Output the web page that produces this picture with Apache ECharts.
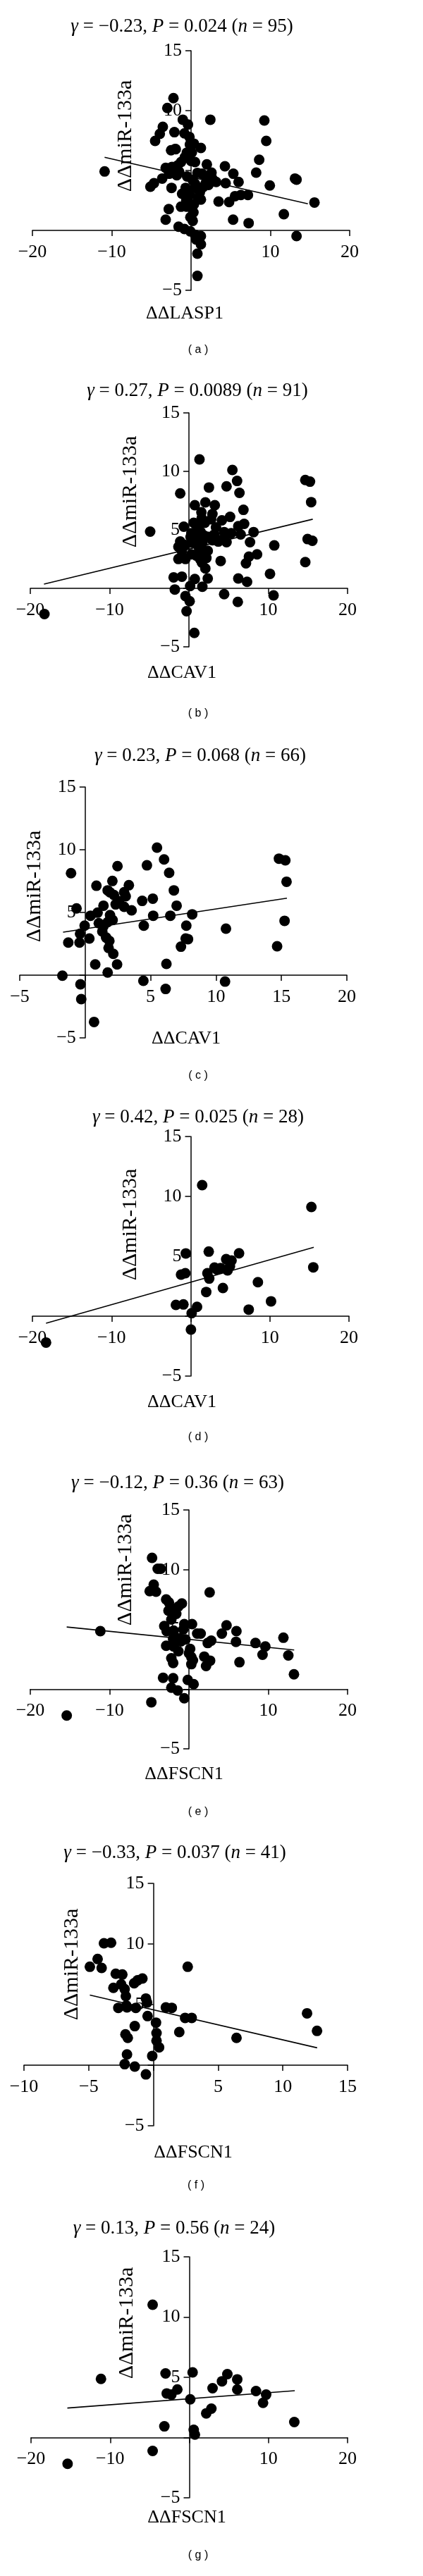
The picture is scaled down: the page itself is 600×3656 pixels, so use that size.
<!DOCTYPE html>
<html>
<head>
<meta charset="utf-8">
<title>miR-133a correlations</title>
<script src="https://cdn.jsdelivr.net/npm/echarts@6/dist/echarts.min.js"></script>
<style>
  html, body { margin: 0; padding: 0; background: #fff; }
  #chart { width: 600px; height: 3656px; }
</style>
</head>
<body>
<div id="chart"></div>
<script>
// ---- data: [ΔΔgene, ΔΔmiR-133a] ----
const pointsA = [
  [-2.22,11.04],[-2.99,10.22],[2.43,9.24],[9.24,9.18],[-1.04,9.24],[-0.39,8.84],[-3.56,8.65],[-2.10,8.20],
  [-0.83,8.10],[-3.94,8.06],[-4.53,7.47],[9.48,7.47],[-0.15,7.18],[0.36,7.24],[1.24,6.88],[-2.52,6.69],
  [-1.93,6.78],[-0.53,6.49],[8.59,5.90],[0.50,5.71],[1.99,5.51],[-1.72,5.41],[-1.27,5.71],[-3.20,5.22],
  [4.27,5.35],[2.58,4.82],[1.39,4.73],[-10.90,4.92],[8.21,4.82],[5.33,4.73],[-2.76,4.73],[-3.64,4.33],
  [13.10,4.33],[13.30,4.24],[5.99,4.04],[3.17,4.04],[4.36,3.94],[1.84,3.94],[-4.68,3.94],[-5.13,3.65],
  [-2.46,3.55],[9.93,3.75],[-0.68,3.55],[0.65,3.55],[1.10,3.16],[7.17,2.96],[6.28,2.96],[5.54,2.86],
  [-1.13,3.06],[-0.15,2.96],[3.47,2.41],[4.80,2.37],[1.24,2.57],[15.56,2.33],[-1.27,1.98],[-0.53,1.98],
  [0.36,2.18],[-2.81,1.78],[11.70,1.35],[-0.09,1.10],[0.21,0.80],[-3.20,0.90],[5.30,0.90],[7.26,0.61],
  [-1.57,0.31],[-0.83,0.12],[-0.09,-0.08],[13.30,-0.47],[0.50,-0.37],[1.24,-0.47],[0.65,-0.76],[1.24,-1.16],
  [0.80,-1.94],[0.80,-3.80],
  [-0.5,4.5],[0.2,4.2],[0.8,4.8],[-1.5,4.9],[0.0,5.8],[-0.8,6.1],[0.5,3.9],[-0.3,3.3],[1.5,3.6],[0.3,1.5],
  [-2.0,6.8],[2.7,4.3],[-0.2,7.8],[0.9,2.7],[-1.8,4.6],[0.1,6.5],[1.8,4.5],[-0.6,2.5],[2.2,3.8],[-2.4,5.3]
];
const pointsB = [
  [1.33,11.02],[5.48,10.12],[6.07,9.18],[14.67,9.26],[15.26,9.12],[4.74,8.72],[2.52,8.62],[-1.10,8.12],
  [6.37,8.16],[15.41,7.37],[0.74,7.11],[2.07,7.35],[3.26,7.11],[6.87,6.71],[1.57,6.51],[2.96,6.35],
  [4.15,5.81],[5.19,6.11],[1.33,5.55],[6.96,5.51],[-0.65,5.27],[6.22,5.31],[3.41,5.21],[-4.89,4.85],
  [0.30,4.71],[4.44,4.81],[5.33,4.71],[8.15,4.81],[6.52,4.61],[1.93,4.51],[1.04,4.21],[2.96,4.11],
  [3.85,4.11],[4.74,3.95],[7.70,3.95],[10.76,3.67],[-1.33,3.55],[-0.44,3.71],[14.96,4.21],[15.56,4.07],
  [2.37,3.21],[0.30,2.91],[-1.33,2.51],[-0.44,2.51],[8.59,2.91],[7.56,2.71],[4.00,2.34],[1.63,2.20],
  [14.67,2.24],[7.19,2.14],[2.07,1.70],[10.22,1.24],[-0.89,1.00],[-1.93,0.94],[6.22,0.84],[2.37,0.84],
  [0.74,0.80],[7.33,0.56],[0.15,0.20],[1.69,0.14],[-1.78,-0.10],[4.44,-0.50],[10.67,-0.60],[-0.44,-0.66],
  [0.09,-1.10],[6.16,-1.16],[-0.30,-1.96],[-18.22,-2.20],[0.68,-3.81],
  [0.6,5.6],[1.0,5.0],[1.5,4.8],[2.0,5.6],[0.8,4.3],[1.2,3.6],[1.7,3.9],[0.4,3.9],[2.5,4.4],[3.2,4.6],
  [1.9,3.1],[0.9,2.8],[1.4,2.5],[-0.9,3.2],[2.8,5.9],[1.6,6.0],[-1.1,4.0],[0.2,4.4],[4.5,4.3],[3.7,4.0],
  [2.2,2.6],[1.3,3.3]
];
const pointsC = [
  [5.49,10.17],[6.03,9.23],[14.81,9.29],[15.30,9.16],[4.72,8.76],[2.47,8.69],[-1.08,8.13],[6.42,8.16],
  [15.39,7.45],[2.08,7.51],[0.86,7.13],[3.34,7.17],[1.72,6.76],[6.78,6.76],[2.98,6.61],[2.20,6.39],
  [3.10,6.29],[4.36,5.92],[5.17,6.10],[1.40,5.54],[2.33,5.64],[6.99,5.54],[-0.66,5.32],[2.98,5.45],
  [3.55,5.17],[0.95,4.98],[0.41,4.74],[1.90,4.79],[5.20,4.74],[6.51,4.74],[8.18,4.85],[1.04,4.14],
  [1.72,4.23],[-0.04,3.95],[4.48,3.95],[7.73,3.95],[10.76,3.71],[15.24,4.33],[1.31,3.48],[-0.39,3.30],
  [0.32,2.92],[-1.29,2.60],[-0.43,2.60],[1.85,2.73],[7.68,2.92],[7.86,2.87],[7.32,2.27],[1.79,2.17],
  [14.67,2.30],[2.15,1.70],[0.77,0.86],[2.44,0.86],[6.21,0.90],[1.72,0.21],[-1.74,-0.04],[4.45,-0.45],
  [10.69,-0.51],[-0.36,-0.73],[6.15,-1.10],[-0.30,-1.91],[0.68,-3.73],
  [1.4,3.9],[2.1,4.4],[2.6,5.9],[1.9,6.6],[1.6,3.0]
];
const pointsD = [
  [1.45,10.94],[15.25,9.12],[-0.62,5.24],[2.28,5.39],[6.11,5.25],[4.48,4.76],[5.16,4.65],[3.00,4.06],
  [3.77,4.02],[4.96,4.18],[4.66,3.82],[-1.22,3.47],[-0.68,3.59],[2.11,3.59],[2.34,3.14],[15.49,4.08],
  [8.49,2.84],[4.07,2.35],[1.96,2.02],[10.15,1.24],[-1.87,0.94],[-0.92,0.98],[0.80,0.78],[7.33,0.55],
  [0.12,0.25],[0.03,-1.12],[-18.28,-2.20],[3.3,3.9]
];
const pointsE = [
  [-4.65,10.99],[-3.94,10.07],[-3.56,10.07],[2.61,8.10],[-4.44,8.75],[-4.95,8.20],[-4.15,8.16],[-2.87,7.51],
  [-2.52,7.25],[-0.89,7.17],[-1.33,6.92],[-1.69,6.72],[-2.58,6.56],[-2.22,5.83],[-3.11,5.28],[-0.59,5.44],
  [0.39,5.44],[4.74,5.34],[-11.17,4.85],[-2.81,4.85],[-1.93,4.89],[5.99,4.85],[4.15,4.65],[1.04,4.65],
  [1.48,4.65],[11.91,4.30],[-1.19,4.26],[-0.44,4.16],[5.93,3.96],[2.81,4.06],[2.37,3.86],[8.39,3.86],
  [-2.87,3.63],[-1.93,3.57],[9.63,3.57],[0.15,3.37],[-1.33,3.17],[9.28,2.88],[12.53,2.82],[0.30,2.68],
  [1.93,2.72],[-2.22,2.58],[2.67,2.38],[6.37,2.25],[-1.99,2.19],[0.30,2.09],[2.16,1.93],[13.24,1.24],
  [-3.26,0.95],[-1.99,0.91],[-0.15,0.77],[0.59,0.41],[-2.22,0.12],[-1.42,-0.12],[-0.59,-0.77],[-4.74,-1.10],
  [-15.41,-2.21],
  [-1.0,4.0],[0.0,3.0],[-0.7,5.0],[-2.0,4.2],[0.5,2.4],[-1.6,6.3]
];
const pointsF = [
  [-3.82,10.06],[-3.27,10.10],[-4.31,8.76],[-4.91,8.12],[-4.00,8.02],[2.65,8.12],[-2.91,7.54],[-2.40,7.48],
  [-0.85,7.15],[-1.22,7.00],[-1.49,6.76],[-2.49,6.67],[-3.09,6.38],[-2.22,6.28],[-2.13,5.70],[-0.58,5.50],
  [-0.49,5.17],[-2.09,4.92],[-2.71,4.73],[-2.04,4.77],[-1.36,4.73],[0.96,4.77],[1.42,4.73],[11.87,4.28],
  [-0.45,4.05],[2.45,3.90],[2.96,3.90],[0.20,3.51],[-1.44,3.22],[12.64,2.83],[2.00,2.73],[0.24,2.64],
  [-2.16,2.54],[-1.98,2.25],[6.42,2.25],[0.24,2.02],[0.44,1.47],[-2.04,0.89],[-0.09,0.76],[-2.22,0.08],
  [-1.44,-0.12],[-0.58,-0.76]
];
const pointsG = [
  [-4.63,11.02],[-11.16,4.87],[-3.00,5.32],[0.42,5.41],[4.81,5.26],[4.13,4.67],[6.06,4.83],[6.06,3.99],
  [2.94,4.09],[-1.51,3.99],[-2.85,3.66],[-2.26,3.56],[8.43,3.86],[9.71,3.56],[9.32,2.88],[0.12,3.17],
  [2.79,2.40],[2.14,2.01],[13.27,1.29],[-3.15,0.93],[0.56,0.64],[0.71,0.25],[-4.63,-1.11],[-15.38,-2.18]
];

// regression line end points
const fitA = [[-10.9, 6.10], [14.73, 2.22]];
const fitB = [[-18.28, 0.36], [15.61, 5.91]];
const fitC = [[-1.69, 3.43], [15.42, 6.14]];
const fitD = [[-18.28, -0.59], [15.55, 5.75]];
const fitE = [[-15.41, 5.20], [13.27, 3.27]];
const fitF = [[-4.91, 5.79], [12.65, 1.43]];
const fitG = [[-15.41, 2.45], [13.33, 3.89]];

const panelTags = ['a', 'b', 'c', 'd', 'e', 'f', 'g'];
const geneNames = ['ΔΔLASP1', 'ΔΔCAV1', 'ΔΔCAV1', 'ΔΔCAV1', 'ΔΔFSCN1', 'ΔΔFSCN1', 'ΔΔFSCN1'];
const rValues = ['−0.23', '0.27', '0.23', '0.42', '−0.12', '−0.33', '0.13'];
const pValues = ['0.024', '0.0089', '0.068', '0.025', '0.36', '0.037', '0.56'];
const nValues = ['95', '91', '66', '28', '63', '41', '24'];
const xRanges = [[-20, 20, 10], [-20, 20, 10], [-5, 20, 5], [-20, 20, 10], [-20, 20, 10], [-10, 15, 5], [-20, 20, 10]];
const yRange = [-5, 15, 5];
const yAxisName = 'ΔΔmiR-133a';

const allPoints = [pointsA, pointsB, pointsC, pointsD, pointsE, pointsF, pointsG];
const allFits = [fitA, fitB, fitC, fitD, fitE, fitF, fitG];

// ---- layout (pixels) ----
const layout = [
  { grid: [46, 72, 450, 340],   title: [258, 38],   yName: [178, 193],  xName: [262, 445],  tag: [281, 497] },
  { grid: [43, 586, 450, 332],  title: [280, 555],  yName: [185, 698],  xName: [258, 955],  tag: [281, 1013] },
  { grid: [28, 1117, 464, 356], title: [284, 1073], yName: [49, 1258],  xName: [264, 1474], tag: [281, 1527] },
  { grid: [46, 1613, 449, 340], title: [281, 1586], yName: [185, 1738], xName: [258, 1990], tag: [281, 2040] },
  { grid: [43, 2143, 450, 339], title: [252, 2105], yName: [178, 2228], xName: [261, 2518], tag: [281, 2572] },
  { grid: [34, 2673, 459, 344], title: [248, 2630], yName: [102, 2788], xName: [274, 3055], tag: [278, 3102] },
  { grid: [44, 3203, 449, 342], title: [247, 3163], yName: [180, 3297], xName: [265, 3573], tag: [281, 3627] }
];

const SERIF = '"Liberation Serif", "Times New Roman", serif';
const SANS = '"Liberation Sans", Arial, sans-serif';

const tickFormatter = (v) => {
  if (v === 0) return '';
  return v < 0 ? '−' + Math.abs(v) : String(v);
};

const axisCommon = {
  type: 'value',
  splitLine: { show: false },
  axisLine: { show: true, onZero: false, lineStyle: { color: '#000', width: 1.5 } },
  axisTick: { show: true, length: 8, lineStyle: { color: '#000', width: 1.5 } },
};

const chart = echarts.init(document.getElementById('chart'), null, { renderer: 'canvas' });

const grids = [], xAxes = [], yAxes = [], series = [], graphics = [];

layout.forEach((L, i) => {
  const [xMin, xMax, xStep] = xRanges[i];
  const [yMin, yMax, yStep] = yRange;
  const w = L.grid[2], h = L.grid[3];
  grids.push({ left: L.grid[0], top: L.grid[1], width: w, height: h, containLabel: false });
  // the axes cross at zero: shift each axis from its grid edge to the other axis' origin
  xAxes.push({
    ...axisCommon, gridIndex: i, position: 'bottom', min: xMin, max: xMax, interval: xStep,
    offset: -h * (0 - yMin) / (yMax - yMin),
    axisLabel: { margin: 18, fontFamily: SERIF, fontSize: 26, color: '#000', formatter: tickFormatter }
  });
  yAxes.push({
    ...axisCommon, gridIndex: i, position: 'left', min: yMin, max: yMax, interval: yStep,
    offset: -w * (0 - xMin) / (xMax - xMin),
    axisLabel: { margin: 13, fontFamily: SERIF, fontSize: 26, color: '#000', formatter: tickFormatter }
  });
  series.push({
    type: 'line', xAxisIndex: i, yAxisIndex: i, data: allFits[i],
    symbol: 'none', silent: true, z: 2,
    lineStyle: { color: '#000', width: 1.6 }
  });
  series.push({
    type: 'scatter', xAxisIndex: i, yAxisIndex: i, data: allPoints[i],
    symbolSize: 15, z: 3,
    itemStyle: { color: '#000', opacity: 1 }
  });

  graphics.push({
    type: 'text', x: L.title[0], y: L.title[1],
    style: {
      text: '{i|γ} = ' + rValues[i] + ', {i|P} = ' + pValues[i] + ' ({i|n} = ' + nValues[i] + ')',
      fontFamily: SERIF, fontSize: 27, fill: '#000',
      align: 'center', verticalAlign: 'middle', textAlign: 'center', textVerticalAlign: 'middle',
      rich: { i: { fontFamily: SERIF, fontSize: 27, fontStyle: 'italic', fill: '#000' } }
    }
  });
  graphics.push({
    type: 'text', x: L.yName[0], y: L.yName[1], rotation: Math.PI / 2,
    style: {
      text: yAxisName, fontFamily: SERIF, fontSize: 30, fill: '#000',
      align: 'center', verticalAlign: 'middle', textAlign: 'center', textVerticalAlign: 'middle'
    }
  });
  graphics.push({
    type: 'text', x: L.xName[0], y: L.xName[1],
    style: {
      text: geneNames[i], fontFamily: SERIF, fontSize: 26, fill: '#000',
      align: 'center', verticalAlign: 'middle', textAlign: 'center', textVerticalAlign: 'middle'
    }
  });
  graphics.push({
    type: 'text', x: L.tag[0], y: L.tag[1],
    style: {
      text: '( ' + panelTags[i] + ' )', fontFamily: SANS, fontSize: 16, fill: '#000',
      align: 'center', verticalAlign: 'middle', textAlign: 'center', textVerticalAlign: 'middle'
    }
  });
});

chart.setOption({
  animation: false,
  backgroundColor: '#fff',
  grid: grids,
  xAxis: xAxes,
  yAxis: yAxes,
  series: series,
  graphic: { elements: graphics }
});
</script>
</body>
</html>
